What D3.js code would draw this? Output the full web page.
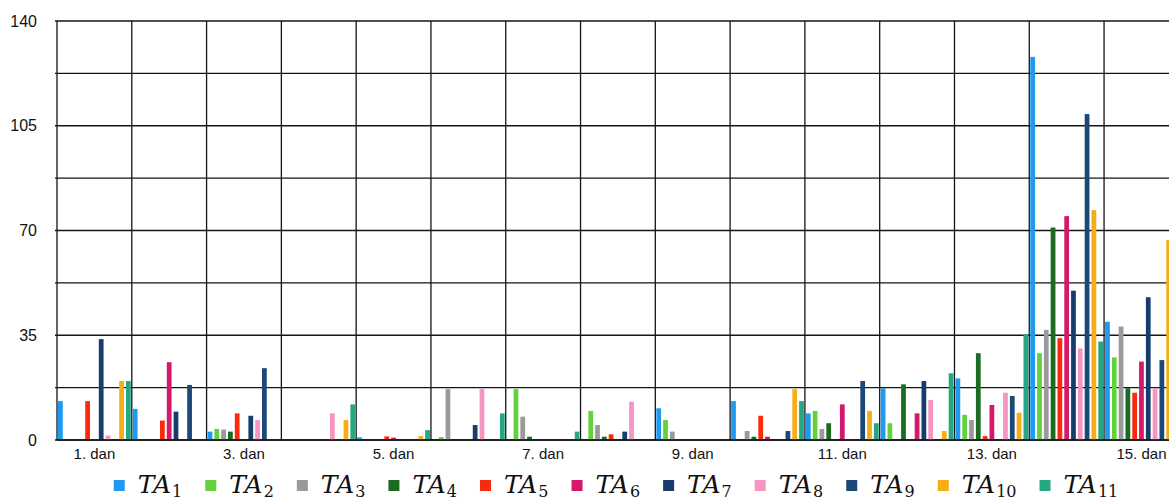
<!DOCTYPE html>
<html><head><meta charset="utf-8">
<script src="https://cdn.jsdelivr.net/npm/d3@7"></script>
<style>body{margin:0;background:#fff;overflow:hidden}svg{display:block}</style>
</head><body>
<svg id="c" width="1169" height="501"></svg>
<script>
// ---- data ----
const days = ["1. dan","2. dan","3. dan","4. dan","5. dan","6. dan","7. dan","8. dan","9. dan","10. dan","11. dan","12. dan","13. dan","14. dan","15. dan"];
const seriesNames = ["TA1","TA2","TA3","TA4","TA5","TA6","TA7","TA8","TA9","TA10","TA11"];
const seriesSubscripts = ["1","2","3","4","5","6","7","8","9","10","11"];
const TA1  = [13, 10.4, 2.8, 0, 0.9, 0, 0, 0, 10.6, 13, 8.9, 17.3, 20.6, 128, 39.5];
const TA2  = [0, 0, 3.7, 0, 0, 1, 17, 9.7, 6.7, 0, 9.7, 5.6, 8.4, 29, 27.6];
const TA3  = [0, 0, 3.5, 0, 0, 17, 7.8, 5, 2.8, 3, 3.7, 0, 6.7, 36.8, 37.9];
const TA4  = [0, 0, 2.8, 0, 0, 0, 1.1, 1.1, 0, 1.1, 5.6, 18.6, 29, 71, 17.3];
const TA5  = [13, 6.5, 8.9, 0, 1.2, 0, 0, 1.9, 0, 8.1, 0, 0, 1.3, 34, 15.8];
const TA6  = [0, 26, 0, 0, 0.8, 0, 0, 0, 0, 1.1, 11.9, 8.9, 11.7, 74.8, 26.2];
const TA7  = [33.7, 9.5, 8.1, 0, 0, 5, 0, 2.8, 0, 0, 0, 19.7, 0, 49.9, 47.7];
const TA8  = [1.5, 0, 6.7, 8.9, 0, 17, 0, 12.8, 0, 0, 0, 13.4, 15.8, 30.6, 17.3];
const TA9  = [0, 18.4, 24, 0, 0, 0, 0, 0, 0, 3, 19.7, 0, 14.7, 108.9, 26.7];
const TA10 = [19.7, 0, 0, 6.7, 1.3, 0, 0, 0, 0, 17, 9.7, 3, 9.1, 76.8, 66.8];
const TA11 = [19.7, 0, 0, 11.9, 3.3, 8.9, 2.8, 0, 0, 13, 5.6, 22.3, 35.4, 32.9, 30];
const yTickValues = [0, 35, 70, 105, 140];
const yMinorStep = 17.5;
const xLabelDays = ["1. dan","3. dan","5. dan","7. dan","9. dan","11. dan","13. dan","15. dan"];
const colors = ["#1e9af2","#62d13c","#9a9a9a","#1b6b22","#fb2a0c","#d4186c","#173d6c","#f795c2","#1c4878","#f6ad17","#26a783"];

const seriesValues = [TA1,TA2,TA3,TA4,TA5,TA6,TA7,TA8,TA9,TA10,TA11];

// ---- layout ----
const svg = d3.select("#c");
const plotLeft = 57, plotTop = 21, plotBottom = 440, dayStep = 74.79;
const x = d3.scaleBand().domain(days).range([plotLeft, plotLeft + dayStep*days.length]).padding(0);
const xi = d3.scaleBand().domain(seriesNames).range([0, x.bandwidth()]).paddingInner(0.3).paddingOuter(0.15);
const y = d3.scaleLinear().domain([0,140]).range([plotBottom, plotTop]);
const color = d3.scaleOrdinal().domain(seriesNames).range(colors);

// grid
const gridColor = "#151515";
const g = svg.append("g");
g.selectAll("line.h").data(d3.range(0, 140 + 0.01, yMinorStep)).join("line")
  .attr("x1", plotLeft - 2).attr("x2", 1169)
  .attr("y1", d => y(d)).attr("y2", d => y(d))
  .attr("stroke", gridColor).attr("stroke-width", 1.3);
const bounds = days.map(d => x(d)).concat([x(days[days.length-1]) + x.bandwidth()]);
g.selectAll("line.v").data(bounds).join("line")
  .attr("x1", d => d).attr("x2", d => d)
  .attr("y1", y(140)).attr("y2", y(0))
  .attr("stroke", gridColor).attr("stroke-width", 1.3);

// bars
const flat = [];
days.forEach((d, i) => seriesNames.forEach((s, j) => flat.push({day: d, s, v: seriesValues[j][i]})));
svg.append("g").selectAll("rect").data(flat.filter(o => o.v > 0)).join("rect")
  .attr("x", o => x(o.day) + xi(o.s))
  .attr("width", xi.bandwidth())
  .attr("y", o => y(o.v))
  .attr("height", o => y(0) - y(o.v))
  .attr("fill", o => color(o.s));

// baseline
svg.append("line").attr("x1", plotLeft).attr("x2", 1169).attr("y1", plotBottom).attr("y2", plotBottom)
  .attr("stroke", "#111").attr("stroke-width", 1.5);

// y labels
const yAxis = d3.axisLeft(y).tickValues(yTickValues).tickSize(0).tickPadding(0);
const ya = svg.append("g").attr("transform", "translate(37,0)").call(yAxis);
ya.select(".domain").remove();
ya.selectAll("text").attr("font-family", "Liberation Sans, Arial, sans-serif").attr("font-size", 16).attr("fill", "#111");

// x labels
const xAxis = d3.axisBottom(x).tickValues(xLabelDays).tickSize(0).tickPadding(0);
const xa = svg.append("g").attr("transform", `translate(0,${plotBottom + 8})`).call(xAxis);
xa.select(".domain").remove();
xa.selectAll("text").attr("font-family", "Liberation Sans, Arial, sans-serif").attr("font-size", 15).attr("fill", "#111");

// legend
const lg = svg.append("g");
const items = [];
seriesNames.forEach((s, i) => {
  const it = lg.append("g");
  it.append("rect").attr("x", 0).attr("y", -13).attr("width", 11).attr("height", 11).attr("fill", color(s));
  const t = it.append("text").attr("x", 24).attr("y", 0)
    .attr("font-family", "DejaVu Serif, serif").attr("font-style", "italic").attr("font-size", 25).attr("fill", "#111").text("TA");
  const tw = t.node().getComputedTextLength();
  const sub = it.append("text").attr("x", 24 + tw + 1).attr("y", 4)
    .attr("font-family", "DejaVu Serif, serif").attr("font-size", 16).attr("fill", "#111").text(seriesSubscripts[i]);
  const sw = sub.node().getComputedTextLength();
  items.push({it, w: 24 + tw + 1 + sw});
});
const gap = 23;
const total = d3.sum(items, d => d.w) + gap*(items.length-1);
let pos = 616 - total/2;
items.forEach(d => { d.it.attr("transform", `translate(${pos},493)`); pos += d.w + gap; });
</script>
</body></html>
